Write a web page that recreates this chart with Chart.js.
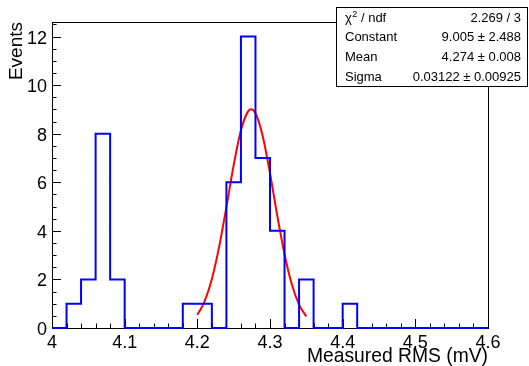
<!DOCTYPE html>
<html>
<head>
<meta charset="utf-8">
<script src="https://cdn.jsdelivr.net/npm/chart.js@4.4.1/dist/chart.umd.min.js"></script>
<style>
  body { margin: 0; background: #fff; }
  canvas { display: block; }
</style>
</head>
<body>
<canvas id="myChart" width="529" height="366"></canvas>
<script>
// histogram bins (lower edges + last upper edge), width 0.02 mV
const binEdges = [4.00, 4.02, 4.04, 4.06, 4.08, 4.10, 4.12, 4.14, 4.16, 4.18,
                  4.20, 4.22, 4.24, 4.26, 4.28, 4.30, 4.32, 4.34, 4.36, 4.38,
                  4.40, 4.42, 4.44, 4.46, 4.48, 4.50, 4.52, 4.54, 4.56, 4.58, 4.60];
const counts = [0, 1, 2, 8, 2, 0, 0, 0, 0, 1,
                1, 0, 6, 12, 7, 4, 0, 2, 0, 0,
                1, 0, 0, 0, 0, 0, 0, 0, 0, 0];

// gaussian fit curve
const fitX = [4.20, 4.21, 4.22, 4.23, 4.24, 4.25, 4.26, 4.27, 4.274, 4.28, 4.29, 4.30, 4.31, 4.32, 4.33, 4.34, 4.35];
const fitY = [0.54, 1.10, 2.02, 3.34, 4.98, 6.70, 8.14, 8.93, 9.005, 8.84, 7.90, 6.37, 4.63, 3.04, 1.80, 0.96, 0.47];

const xTicks = [4.0, 4.1, 4.2, 4.3, 4.4, 4.5, 4.6];
const yTicks = [0, 2, 4, 6, 8, 10, 12];

// stats box rows
const statNames = ['Constant', 'Mean', 'Sigma'];
const statValues = ['9.005 \u00b1 2.488', '4.274 \u00b1 0.008', '0.03122 \u00b1 0.00925'];
const chiNdf = '2.269 / 3';

const FONT = "'Liberation Sans', Arial, Helvetica, sans-serif";
Chart.defaults.font.family = FONT;
Chart.defaults.color = '#000';

const histPoints = counts.map((c, i) => ({ x: binEdges[i], y: c }));
histPoints.push({ x: binEdges[binEdges.length - 1], y: 0 });
const fitPoints = fitX.map((v, i) => ({ x: v, y: fitY[i] }));

// frame + inward ticks like ROOT
const framePlugin = {
    id: 'frame',
    beforeDatasetsDraw(chart) {
        const { ctx, chartArea: a, scales } = chart;
        const x = scales.x, y = scales.y;
        ctx.save();
        ctx.strokeStyle = '#000';
        ctx.lineWidth = 1;
        ctx.strokeRect(Math.round(a.left) + 0.5, Math.round(a.top) + 0.5,
            Math.round(a.right - a.left), Math.round(a.bottom - a.top));
        ctx.beginPath();
        // x ticks, 5 subdivisions
        for (let i = 0; i < xTicks.length; i++) {
            const px = Math.round(x.getPixelForValue(xTicks[i])) + 0.5;
            ctx.moveTo(px, a.bottom);
            ctx.lineTo(px, a.bottom - 9);
            if (i < xTicks.length - 1) {
                const step = (xTicks[i + 1] - xTicks[i]) / 5;
                for (let k = 1; k < 5; k++) {
                    const mx = Math.round(x.getPixelForValue(xTicks[i] + k * step)) + 0.5;
                    ctx.moveTo(mx, a.bottom);
                    ctx.lineTo(mx, a.bottom - 4.5);
                }
            }
        }
        // y ticks, 4 subdivisions
        for (let i = 0; i < yTicks.length; i++) {
            const py = Math.round(y.getPixelForValue(yTicks[i])) + 0.5;
            ctx.moveTo(a.left, py);
            ctx.lineTo(a.left + 9, py);
            for (let k = 1; k < 4; k++) {
                const v = yTicks[i] + k * 0.5;
                if (v > y.max) break;
                const my = Math.round(y.getPixelForValue(v)) + 0.5;
                ctx.moveTo(a.left, my);
                ctx.lineTo(a.left + 4.5, my);
            }
        }
        ctx.stroke();
        ctx.restore();
    },
    afterDraw(chart) {
        const { ctx } = chart;
        const bx = 336, by = 7, bw = 191, bh = 79;
        ctx.save();
        ctx.fillStyle = '#fff';
        ctx.fillRect(bx, by, bw, bh);
        ctx.strokeStyle = '#000';
        ctx.lineWidth = 1;
        ctx.strokeRect(bx + 0.5, by + 0.5, bw, bh);
        ctx.fillStyle = '#000';
        ctx.font = '13px ' + FONT;
        const rowH = bh / 4;
        const left = bx + 9, right = bx + bw - 6;
        // chi2 row
        let base = by + rowH * 0.5 + 4.7;
        ctx.textAlign = 'left';
        ctx.fillText('\u03c7', left, base);
        let w = ctx.measureText('\u03c7').width;
        ctx.font = '9px ' + FONT;
        ctx.fillText('2', left + w + 0.5, base - 5);
        const w2 = ctx.measureText('2').width;
        ctx.font = '13px ' + FONT;
        ctx.fillText(' / ndf', left + w + w2 + 0.5, base);
        ctx.textAlign = 'right';
        ctx.fillText(chiNdf, right, base);
        for (let i = 0; i < statNames.length; i++) {
            base = by + rowH * (i + 1.5) + 4.7;
            ctx.textAlign = 'left';
            ctx.fillText(statNames[i], left, base);
            ctx.textAlign = 'right';
            ctx.fillText(statValues[i], right, base);
        }
        ctx.restore();
    }
};

const chartElement = document.getElementById('myChart').getContext('2d');
window.myChart = new Chart(chartElement, {
    type: 'line',
    data: {
        datasets: [
            {
                label: 'Measured RMS',
                data: histPoints,
                stepped: 'before',
                borderColor: '#0000ff',
                borderWidth: 2,
                pointRadius: 0,
                fill: false,
                clip: 4
            },
            {
                label: 'gaus fit',
                data: fitPoints,
                borderColor: '#ff0000',
                borderWidth: 2,
                pointRadius: 0,
                cubicInterpolationMode: 'monotone',
                fill: false,
                clip: 4
            }
        ]
    },
    options: {
        responsive: false,
        animation: false,
        layout: { padding: { top: 22, right: 41, left: 0, bottom: 0 } },
        plugins: {
            legend: { display: false },
            tooltip: { enabled: false }
        },
        scales: {
            x: {
                type: 'linear',
                min: 4.0,
                max: 4.6,
                grid: { display: false, drawTicks: false },
                border: { display: false },
                afterBuildTicks: (scale) => { scale.ticks = xTicks.map(v => ({ value: v })); },
                afterFit: (scale) => { scale.height = 38; },
                ticks: {
                    font: { size: 18 },
                    padding: 4,
                    maxRotation: 0,
                    callback: (v) => String(+v.toFixed(1))
                },
                title: {
                    display: true,
                    text: 'Measured RMS (mV)',
                    align: 'end',
                    font: { size: 19.3, lineHeight: 1 },
                    padding: { top: 0, bottom: 0 }
                }
            },
            y: {
                type: 'linear',
                min: 0,
                max: 12.6,
                grid: { display: false, drawTicks: false },
                border: { display: false },
                afterBuildTicks: (scale) => { scale.ticks = yTicks.map(v => ({ value: v })); },
                afterFit: (scale) => { scale.width = 52; },
                ticks: {
                    font: { size: 18 },
                    padding: 5,
                    labelOffset: 2,
                    callback: (v) => String(v)
                },
                title: {
                    display: true,
                    text: 'Events',
                    align: 'end',
                    font: { size: 19, lineHeight: 1 },
                    padding: { top: 7, bottom: 0 }
                }
            }
        }
    },
    plugins: [framePlugin]
});
</script>
</body>
</html>
